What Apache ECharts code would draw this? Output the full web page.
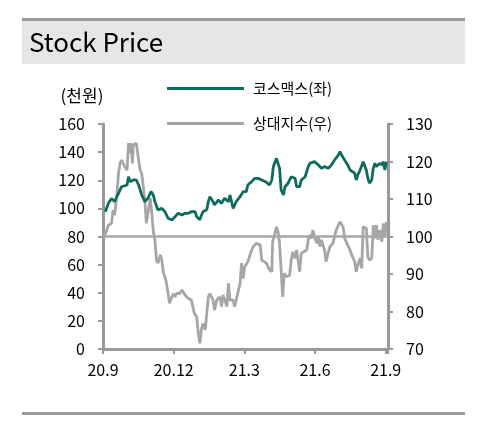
<!DOCTYPE html>
<html>
<head>
<meta charset="utf-8">
<script src="https://cdn.jsdelivr.net/npm/echarts@6/dist/echarts.min.js"></script>
<style>
html,body{margin:0;padding:0;background:#fff;}
#c{width:487px;height:434px;}
</style>
</head>
<body>
<div id="c"></div>
<script>
// x values are days since 2020-09-01
const tickLabels = ['20.9', '20.12', '21.3', '21.6', '21.9'];
const seriesNames = ['코스맥스(좌)', '상대지수(우)'];

const kosmaxDays = [3,7,11,15,20,24,26,31,33,35,39,43,46,50,52,54,56,58,62,65,67,71,76,80,84,89,93,97,102,106,110,114,119,121,125,129,134,136,138,142,144,149,153,157,162,164,168,172,177,181,185,187,192,196,200,205,211,215,218,220,224,228,230,233,235,239,243,248,250,254,256,261,265,267,269,273,278,282,286,291,295,299,304,306,308,312,316,319,321,325,327,329,332,336,338,340,342,344,347,349,351,353,357,360,362,364,366];
const kosmaxValues = [97.6,103.6,107,104.8,110.7,115.4,114.3,116.6,122.5,119,120.2,120.2,116.6,109.5,107.2,104.8,103.6,107.2,111.9,109.5,104.8,98.9,100,97.6,93,91.7,94,96.5,95.3,96.5,96.5,97.6,97.6,94,92,97.6,99,104.8,108.3,104.8,102.4,106,103.6,107.2,104.8,109.5,100,104.8,108.3,111.9,111.9,116.6,119,121.4,121.4,120.2,118.5,116.6,120.2,129.7,135.6,128.5,113.1,109.5,115.4,117.9,122.5,121.4,115.4,115.4,120.2,122.5,129.7,132,130.9,133.2,130.9,128.5,129.7,128.5,130.9,134.4,138,140.3,138,134.4,130.9,127.3,128.5,125,120.2,123.8,127.3,133.2,133.2,127.3,121.4,117.9,120.2,128.5,132,129.7,132,131,133.2,127.3,133.2];

const relDays = [1,5,7,11,13,15,18,20,22,24,26,28,31,33,34,36,38,39,43,46,48,50,52,54,56,58,61,63,65,67,69,71,74,76,78,80,82,84,86,89,91,93,95,99,102,106,110,114,118,121,123,125,127,129,132,134,136,138,142,144,147,151,153,155,160,162,164,168,170,172,177,179,181,183,187,192,194,198,203,205,207,211,215,218,219,222,224,226,228,230,232,234,237,241,243,245,248,250,254,256,258,263,265,267,269,271,273,276,278,280,282,286,288,291,293,297,301,306,308,310,312,314,316,319,321,323,325,327,329,332,334,336,338,340,342,344,347,349,351,353,355,357,360,362,364,366];
const relValues = [99.9,101.7,103,103.5,107.1,105.7,111.5,116.8,119.5,120.4,120.8,118.6,117.7,124.9,122.2,124.9,119.5,124.4,124.9,120.4,117.7,116.8,113.3,109.7,103.5,106.2,110.2,106.2,101.3,99.1,93.7,92.9,95.1,93.7,90.2,89.3,87.5,84.8,82.2,83.9,84.8,83.9,84.8,84.8,85.7,84.4,83.5,83.1,79.5,78.6,74.2,71.5,75.1,76.8,75.1,79.5,83.9,84.8,83.1,80.4,83.1,83.9,81.3,84.4,81.3,87.5,83,83.1,81.3,83.1,87.5,92.9,88.8,91.9,93.3,96.4,97.3,98.2,97.7,93.7,93.3,92.9,91.1,90.6,98.6,100.8,102.6,101.3,98.2,91.1,83.9,90.2,89.3,89.7,93.7,95.9,94.2,96.4,90.6,95.5,95.9,96.4,99.1,100.4,99.5,101.7,99.9,98.2,99.9,97.3,99.1,96.4,93.3,95.9,97.3,98.2,101.7,103.9,103.9,102.6,99.5,98.6,97.7,96.4,95.1,94.6,93.3,90.6,92.4,94.2,91.5,102.6,103,102.2,94.6,93.7,94.2,103,99.5,103,99.1,101.7,98.6,103.5,99.9,103.9];

const leftTicks = { min: 0, max: 160, interval: 20 };
const rightTicks = { min: 70, max: 130, interval: 10 };
const refLevel = 100;

const FONT = '"Noto Sans CJK KR", "Noto Sans", sans-serif';
const AXIS_COLOR = '#999999';
const GREEN = '#0e6b5e';
const GRAY = '#a6a6a6';
const QUARTER = 91.25;

const zip = (a, b) => a.map((d, i) => [d, b[i]]);

const chart = echarts.init(document.getElementById('c'), null, { renderer: 'canvas' });
chart.setOption({
  backgroundColor: '#ffffff',
  animation: false,
  graphic: [
    { type: 'rect', shape: { x: 22, y: 18, width: 443, height: 3 }, style: { fill: '#999999' } },
    { type: 'rect', shape: { x: 22, y: 21, width: 443, height: 43 }, style: { fill: '#e6e6e6' } },
    { type: 'text', x: 29, y: 42, style: { text: 'Stock Price', font: '26px ' + FONT, fill: '#000', textVerticalAlign: 'middle' } },
    { type: 'rect', shape: { x: 22, y: 412, width: 443, height: 3 }, style: { fill: '#999999' } },
    { type: 'text', x: 82, y: 96, style: { text: '(천원)', font: '17px ' + FONT, fill: '#000', textAlign: 'center', textVerticalAlign: 'middle' } }
  ],
  legend: [
    { data: [seriesNames[0]], left: 162, top: 76, orient: 'vertical', icon: 'rect', itemWidth: 77, itemHeight: 3,
      textStyle: { fontFamily: FONT, fontSize: 15, color: '#000', padding: [0, 0, 0, 4] } },
    { data: [seriesNames[1]], left: 162, top: 111, orient: 'vertical', icon: 'rect', itemWidth: 77, itemHeight: 3,
      textStyle: { fontFamily: FONT, fontSize: 15, color: '#000', padding: [0, 0, 0, 4] } }
  ],
  grid: { left: 103, right: 99, top: 124, bottom: 85, containLabel: false },
  xAxis: {
    type: 'value', min: 0, max: 368, interval: QUARTER,
    splitLine: { show: false },
    axisLine: { show: true, onZero: false, lineStyle: { color: AXIS_COLOR, width: 3 } },
    axisTick: { show: true, length: 5, lineStyle: { color: AXIS_COLOR, width: 2 } },
    axisLabel: {
      margin: 13, fontFamily: FONT, fontSize: 16, color: '#000', showMaxLabel: true,
      formatter: v => { const i = Math.round(v / QUARTER); return Math.abs(v - i * QUARTER) < 0.5 && tickLabels[i] ? tickLabels[i] : ''; }
    }
  },
  yAxis: [
    {
      type: 'value', position: 'left', min: leftTicks.min, max: leftTicks.max, interval: leftTicks.interval,
      splitLine: { show: false },
      axisLine: { show: true, onZero: false, lineStyle: { color: AXIS_COLOR, width: 3 } },
      axisTick: { show: true, length: 5, lineStyle: { color: AXIS_COLOR, width: 2 } },
      axisLabel: { margin: 18, fontFamily: FONT, fontSize: 16, color: '#000' }
    },
    {
      type: 'value', position: 'right', min: rightTicks.min, max: rightTicks.max, interval: rightTicks.interval,
      splitLine: { show: false },
      axisLine: { show: true, onZero: false, lineStyle: { color: AXIS_COLOR, width: 3 } },
      axisTick: { show: true, length: 5, lineStyle: { color: AXIS_COLOR, width: 2 } },
      axisLabel: { margin: 18, fontFamily: FONT, fontSize: 16, color: '#000' }
    }
  ],
  series: [
    {
      name: seriesNames[1], type: 'line', yAxisIndex: 1, data: zip(relDays, relValues),
      showSymbol: false, symbol: 'none', lineStyle: { color: GRAY, width: 2.8 }, itemStyle: { color: GRAY },
      markLine: { silent: true, symbol: 'none', label: { show: false }, lineStyle: { color: GRAY, width: 2.5, type: 'solid' }, data: [{ yAxis: refLevel }] },
      z: 2
    },
    {
      name: seriesNames[0], type: 'line', yAxisIndex: 0, data: zip(kosmaxDays, kosmaxValues),
      showSymbol: false, symbol: 'none', lineStyle: { color: GREEN, width: 2.8 }, itemStyle: { color: GREEN },
      z: 3
    }
  ]
});
</script>
</body>
</html>
